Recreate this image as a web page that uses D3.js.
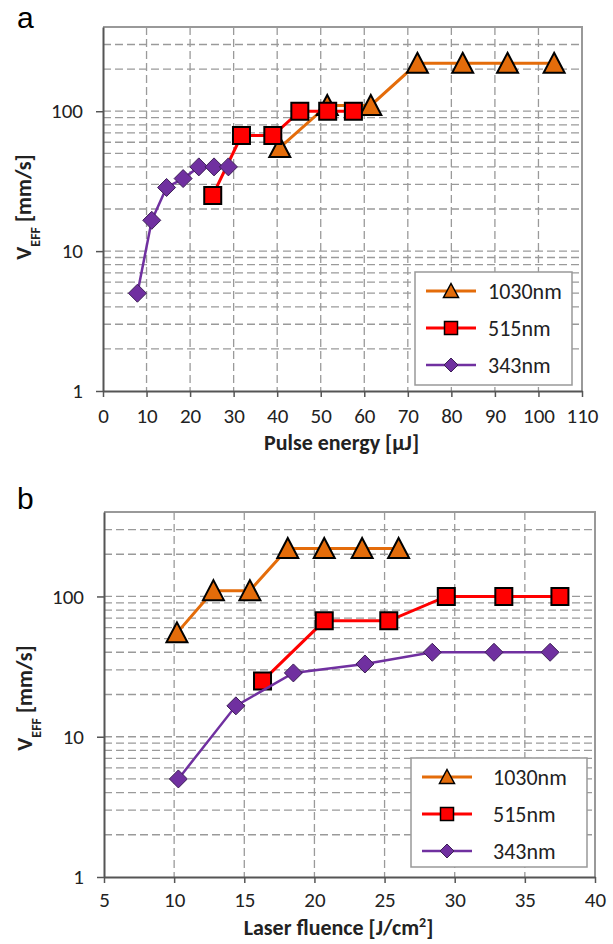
<!DOCTYPE html>
<html>
<head>
<meta charset="utf-8">
<script src="https://cdn.jsdelivr.net/npm/d3@7"></script>
<style>
  body { margin: 0; background: #fff; }
  text { font-family: Carlito, Calibri, Lato, sans-serif; fill: #222; }
</style>
</head>
<body>
<script>
// values
const seriesNames = ['1030nm', '515nm', '343nm'];

const energy1030 = [40.6, 51.5, 61.5, 72.2, 82.6, 92.9, 103.6];
const energy515 = [25.2, 31.8, 39.0, 45.2, 51.6, 57.5];
const energy343 = [7.9, 11.2, 14.6, 18.4, 22.0, 25.5, 28.8];

const fluence1030 = [10.2, 12.8, 15.4, 18.1, 20.7, 23.4, 26.0];
const fluence515 = [16.3, 20.7, 25.3, 29.4, 33.5, 37.5];
const fluence343 = [10.3, 14.4, 18.5, 23.6, 28.4, 32.8, 36.8];

const v1030 = [55, 110, 110, 220, 220, 220, 220];
const v515 = [25, 67, 67, 100, 100, 100];
const v343 = [5, 16.6, 28.5, 33, 40, 40, 40];

const energyTicks = [0, 10, 20, 30, 40, 50, 60, 70, 80, 90, 100, 110];
const fluenceTicks = [5, 10, 15, 20, 25, 30, 35, 40];
const vTicks = [1, 10, 100];

const styles = [
    { color: '#e46c0a', shape: 'triangle', width: 3 },
    { color: '#ff0000', shape: 'square', width: 3 },
    { color: '#7030a0', shape: 'diamond', width: 2.5 }
];

const svg = d3.select('body').append('svg')
    .attr('width', 613)
    .attr('height', 944);

function markerPath(shape, s) {
    let h = s / 2;
    if (shape === 'triangle') return `M0,${-h - 1}L${h + 1},${h}L${-h - 1},${h}Z`;
    if (shape === 'square') return `M${-h},${-h}H${h}V${h}H${-h}Z`;
    return `M0,${-h - 1}L${h + 1},0L0,${h + 1}L${-h - 1},0Z`;
}

function markerSize(shape, big) {
    if (shape === 'triangle') return big ? 19 : 13;
    if (shape === 'square') return big ? 17 : 13;
    return big ? 16 : 12;
}

function panel(o) {
    let g = svg.append('g');

    let x = d3.scaleLinear().domain(o.xDomain).range([o.left, o.right]);
    let y = d3.scaleLog().domain([1, 400]).range([o.bottom, o.top]);

    g.append('text')
        .attr('x', 17).attr('y', o.labelY)
        .style('font-family', 'Liberation Sans, Arial, sans-serif')
        .style('font-size', '30px')
        .style('fill', '#000')
        .text(o.label);

    // grid
    let hGrid = [];
    [1, 10, 100].forEach(d => { for (let k = 1; k <= 9; k++) if (d * k > 1 && d * k < 400) hGrid.push(d * k); });

    g.append('g').selectAll('line').data(hGrid).enter().append('line')
        .attr('x1', o.left).attr('x2', o.right)
        .attr('y1', d => y(d)).attr('y2', d => y(d))
        .attr('stroke', '#9a9a9a').attr('stroke-width', 1.3)
        .attr('stroke-dasharray', '8,4');

    g.append('g').selectAll('line').data(o.xTicks.slice(1, -1)).enter().append('line')
        .attr('x1', d => x(d)).attr('x2', d => x(d))
        .attr('y1', o.top).attr('y2', o.bottom)
        .attr('stroke', '#9a9a9a').attr('stroke-width', 1.3)
        .attr('stroke-dasharray', '8,4');

    // top/right frame
    g.append('path')
        .attr('d', `M${o.left},${o.top}H${o.right}V${o.bottom}`)
        .attr('fill', 'none').attr('stroke', '#999').attr('stroke-width', 2);

    // axes
    let yAxis = d3.axisLeft(y).tickValues(vTicks).tickFormat(d3.format('d'))
        .tickSize(7).tickSizeOuter(0).tickPadding(13);
    let xAxis = d3.axisBottom(x).tickValues(o.xTicks)
        .tickSize(6).tickSizeOuter(0).tickPadding(o.xPad);

    let ya = g.append('g').attr('transform', `translate(${o.left},0)`).call(yAxis);
    let xa = g.append('g').attr('transform', `translate(0,${o.bottom})`).call(xAxis);
    [ya, xa].forEach(a => {
        a.select('.domain').attr('stroke', '#555').attr('stroke-width', 2);
        a.selectAll('.tick line').attr('stroke', '#555').attr('stroke-width', 1.5);
        a.selectAll('.tick text').style('font-family', 'Carlito, Calibri, sans-serif')
            .style('font-size', '21px').attr('fill', '#222');
    });

    // titles
    let xt = g.append('text')
        .attr('x', (o.left + o.right) / 2 + o.xTitleShift).attr('y', o.xTitleY)
        .attr('text-anchor', 'middle')
        .style('font-size', '22px').style('font-weight', 'bold');
    xt.append('tspan').text(o.xTitle);
    if (o.xSup) {
        xt.append('tspan').attr('baseline-shift', 'super').style('font-size', '14px').text(o.xSup);
        xt.append('tspan').text(']');
    }

    let yt = g.append('text')
        .attr('transform', `translate(${o.yTitleX},${o.yTitleY}) rotate(-90)`)
        .attr('text-anchor', 'middle')
        .style('font-size', '22px').style('font-weight', 'bold');
    yt.append('tspan').text('V');
    yt.append('tspan').attr('baseline-shift', 'sub').style('font-size', '14px').text('EFF');
    yt.append('tspan').text(' [mm/s]');

    // series
    let line = d3.line().x(d => x(d[0])).y(d => y(d[1]));
    o.xs.forEach((xv, i) => {
        let pts = xv.map((d, j) => [d, o.vs[i][j]]);
        let st = styles[i];
        g.append('path').datum(pts)
            .attr('d', line)
            .attr('fill', 'none')
            .attr('stroke', st.color)
            .attr('stroke-width', st.width);
        g.append('g').selectAll('path').data(pts).enter().append('path')
            .attr('transform', d => `translate(${x(d[0])},${y(d[1])})`)
            .attr('d', markerPath(st.shape, markerSize(st.shape, true)))
            .attr('fill', st.color)
            .attr('stroke', st.shape === 'diamond' ? '#3c1f55' : '#000')
            .attr('stroke-width', st.shape === 'diamond' ? 1 : 2)
            .attr('stroke-linejoin', 'miter');
    });

    // legend
    let lg = g.append('g').attr('transform', `translate(${o.legend.x},${o.legend.y})`);
    lg.append('rect')
        .attr('width', o.legend.w).attr('height', o.legend.h)
        .attr('fill', '#fff').attr('stroke', '#999').attr('stroke-width', 1.5);
    seriesNames.forEach((name, i) => {
        let st = styles[i];
        let ry = 19 + i * 37;
        lg.append('line')
            .attr('x1', 11).attr('x2', 61).attr('y1', ry).attr('y2', ry)
            .attr('stroke', st.color).attr('stroke-width', st.width);
        lg.append('path')
            .attr('transform', `translate(36,${ry})`)
            .attr('d', markerPath(st.shape, markerSize(st.shape, false)))
            .attr('fill', st.color)
            .attr('stroke', st.shape === 'diamond' ? '#3c1f55' : '#000')
            .attr('stroke-width', st.shape === 'diamond' ? 1 : 1.5);
        lg.append('text')
            .attr('x', o.legend.tx).attr('y', ry).attr('dy', '0.35em')
            .style('font-size', '22px')
            .text(name);
    });
}

panel({
    label: 'a', labelY: 28,
    left: 103, right: 582, top: 27, bottom: 391,
    xDomain: [0, 110], xTicks: energyTicks, xPad: 11,
    xTitle: 'Pulse energy [µJ]', xTitleY: 450, xTitleShift: -1,
    yTitleX: 31, yTitleY: 207,
    xs: [energy1030, energy515, energy343],
    vs: [v1030, v515, v343],
    legend: { x: 415, y: 272, w: 157, h: 113, tx: 73 }
});

panel({
    label: 'b', labelY: 509,
    left: 104, right: 595, top: 512, bottom: 877,
    xDomain: [5, 40], xTicks: fluenceTicks, xPad: 9,
    xTitle: 'Laser fluence [J/cm', xSup: '2', xTitleY: 935, xTitleShift: -11,
    yTitleX: 32, yTitleY: 698,
    xs: [fluence1030, fluence515, fluence343],
    vs: [v1030, v515, v343],
    legend: { x: 411, y: 758, w: 176, h: 109, tx: 82 }
});
</script>
</body>
</html>
